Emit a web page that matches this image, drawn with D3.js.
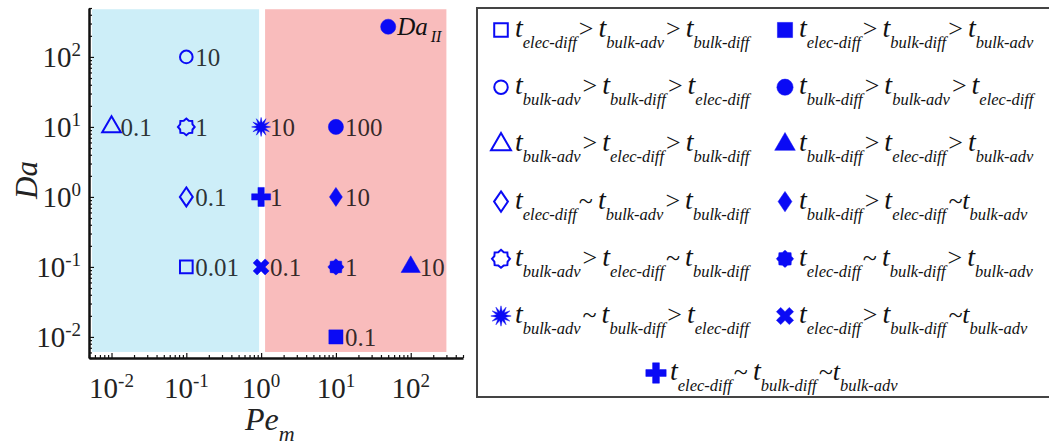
<!DOCTYPE html>
<html>
<head>
<meta charset="utf-8">
<script src="https://cdn.jsdelivr.net/npm/d3@7"></script>
<style>
body { margin: 0; background: #fff; }
svg { display: block; font-family: "Liberation Serif", "Times New Roman", serif; }
</style>
</head>
<body>
<script>
//Chart data
var peValues = [0.1, 0.1, 0.01, 0.1, 0.1, 1, 1, 1, 10, 10, 10, 100, 10];
var daValues = [0.1, 100, 10, 1, 10, 10, 1, 0.1, 10, 1, 0.1, 0.1, 0.01];
var daIILabels = ['0.01', '10', '0.1', '0.1', '1', '10', '1', '0.1', '100', '10', '1', '10', '0.1'];
var pointShapes = ['square', 'circle', 'triangle', 'diamond', 'hexagram', 'burst', 'plus', 'cross',
    'circle', 'diamond', 'hexagram', 'triangle', 'square'];
var pointFilled = [false, false, false, false, false, true, true, true, true, true, true, true, true];

//Key marker for Da_II
var keyPe = [50];
var keyDa = [270];

//Regime regions (Pe_m from, Pe_m to)
var regionPeStart = [0.0055, 1.13];
var regionPeEnd = [0.94, 300];
var regionDa = [0.0061, 480];

//Tick exponents
var tickExponents = [-2, -1, 0, 1, 2];

//Legend entries
var legendShapes = ['square', 'circle', 'triangle', 'diamond', 'hexagram', 'burst',
    'square', 'circle', 'triangle', 'diamond', 'hexagram', 'cross', 'plus'];
var legendFilled = [false, false, false, false, false, true, true, true, true, true, true, true, true];
var legendSubs = [
    ['elec-diff', 'bulk-adv', 'bulk-diff'],
    ['bulk-adv', 'bulk-diff', 'elec-diff'],
    ['bulk-adv', 'elec-diff', 'bulk-diff'],
    ['elec-diff', 'bulk-adv', 'bulk-diff'],
    ['bulk-adv', 'elec-diff', 'bulk-diff'],
    ['bulk-adv', 'bulk-diff', 'elec-diff'],
    ['elec-diff', 'bulk-diff', 'bulk-adv'],
    ['bulk-diff', 'bulk-adv', 'elec-diff'],
    ['bulk-diff', 'elec-diff', 'bulk-adv'],
    ['bulk-diff', 'elec-diff', 'bulk-adv'],
    ['elec-diff', 'bulk-diff', 'bulk-adv'],
    ['elec-diff', 'bulk-diff', 'bulk-adv'],
    ['elec-diff', 'bulk-diff', 'bulk-adv']
];
var legendOps = [
    ['>', '>'], ['>', '>'], ['>', '>'], ['~', '>'], ['>', '~'], ['~', '>'],
    ['>', '>'], ['>', '>'], ['>', '>'], ['>', '~t'], ['~', '>'], ['>', '~t'],
    ['~', '~t']
];

//Define the SVG size and plot box
var svgWidth = 1049;
var svgHeight = 447;
var plot = { left: 89, right: 463, top: 8, bottom: 358 };
var blue = '#0a0af5';

var svg = d3.select('body')
    .append('svg')
    .attr('width', svgWidth)
    .attr('height', svgHeight);

//Scales
var xScale = d3.scaleLog()
    .domain([0.005, 500])
    .range([plot.left, plot.right]);
var yScale = d3.scaleLog()
    .domain([0.005, 500])
    .range([plot.bottom, plot.top]);

//Marker types
function starType(points, inner) {
    return {
        draw: function(context, size) {
            var r = Math.sqrt(size) / 2;
            for (var i = 0; i < points * 2; i++) {
                var rr = i % 2 === 0 ? r : r * inner;
                var a = Math.PI * i / points - Math.PI / 2;
                if (i === 0) context.moveTo(rr * Math.cos(a), rr * Math.sin(a));
                else context.lineTo(rr * Math.cos(a), rr * Math.sin(a));
            }
            context.closePath();
        }
    };
}
var narrowDiamond = {
    draw: function(context, size) {
        var h = Math.sqrt(size) / 2;
        var w = h * 0.68;
        context.moveTo(0, -h);
        context.lineTo(w, 0);
        context.lineTo(0, h);
        context.lineTo(-w, 0);
        context.closePath();
    }
};
var shapeStyles = {
    square: { type: d3.symbolSquare, open: 160, full: 200, rotate: 0 },
    circle: { type: d3.symbolCircle, open: 125, full: 180, rotate: 0 },
    triangle: { type: d3.symbolTriangle, open: 150, full: 160, rotate: 0 },
    diamond: { type: narrowDiamond, open: 361, full: 361, rotate: 0 },
    hexagram: { type: starType(8, 0.8), open: 280, full: 260, rotate: 0 },
    burst: { type: starType(12, 0.45), open: 360, full: 360, rotate: 0 },
    plus: { type: d3.symbolCross, open: 200, full: 200, rotate: 0 },
    cross: { type: d3.symbolCross, open: 160, full: 160, rotate: 45 }
};

function drawMarker(group, shape, filled, scale) {
    var st = shapeStyles[shape];
    var size = (filled ? st.full : st.open) * scale;
    group.append('path')
        .attr('d', d3.symbol().type(st.type).size(size)())
        .attr('transform', 'rotate(' + st.rotate + ')')
        .attr('fill', filled ? blue : 'none')
        .attr('stroke', blue)
        .attr('stroke-width', filled ? 0.5 : 2);
}

//Background regions
svg.append('g').selectAll('rect')
    .data(regionPeStart)
    .enter()
    .append('rect')
    .attr('x', (d, i) => xScale(d))
    .attr('width', (d, i) => xScale(regionPeEnd[i]) - xScale(d))
    .attr('y', yScale(regionDa[1]))
    .attr('height', yScale(regionDa[0]) - yScale(regionDa[1]))
    .attr('fill', (d, i) => i === 0 ? '#cdeef8' : '#f9bcbc');

//Axes with major and minor ticks pointing inward
var majorTicks = tickExponents.map(e => Math.pow(10, e));
var minorTicks = xScale.ticks().filter(v => majorTicks.indexOf(v) < 0);

var xAxisGroup = svg.append('g').attr('transform', `translate(0, ${plot.bottom})`);
xAxisGroup.call(d3.axisBottom(xScale).tickValues(majorTicks).tickSize(-5).tickSizeOuter(0).tickFormat(''));
xAxisGroup.append('g').call(d3.axisBottom(xScale).tickValues(minorTicks).tickSize(-3).tickSizeOuter(0).tickFormat(''))
    .select('.domain').remove();

var yAxisGroup = svg.append('g').attr('transform', `translate(${plot.left}, 0)`);
yAxisGroup.call(d3.axisLeft(yScale).tickValues(majorTicks).tickSize(-5).tickSizeOuter(0).tickFormat(''));
yAxisGroup.append('g').call(d3.axisLeft(yScale).tickValues(minorTicks).tickSize(-3).tickSizeOuter(0).tickFormat(''))
    .select('.domain').remove();

svg.selectAll('.domain').attr('stroke', '#111').attr('stroke-width', 2.5);
svg.selectAll('.tick line').attr('stroke', '#111').attr('stroke-width', 1.2);

//Tick labels as 10^n
function powerLabel(sel) {
    sel.append('tspan').text('10');
    sel.append('tspan').text(d => d).attr('dy', -11).style('font-size', '19px');
}
svg.append('g').selectAll('text')
    .data(tickExponents)
    .enter()
    .append('text')
    .attr('x', d => xScale(Math.pow(10, d)))
    .attr('y', 398)
    .attr('text-anchor', 'middle')
    .style('font-size', '29px')
    .attr('fill', '#222')
    .call(powerLabel);
svg.append('g').selectAll('text')
    .data(tickExponents)
    .enter()
    .append('text')
    .attr('x', 81)
    .attr('y', d => yScale(Math.pow(10, d)) + 10)
    .attr('text-anchor', 'end')
    .style('font-size', '29px')
    .attr('fill', '#222')
    .call(powerLabel);

//Axis titles
svg.append('text')
    .attr('transform', 'translate(37, 180) rotate(-90)')
    .attr('text-anchor', 'middle')
    .style('font-size', '31px')
    .style('font-style', 'italic')
    .attr('fill', '#222')
    .text('Da');
var peTitle = svg.append('text')
    .attr('x', 245)
    .attr('y', 430)
    .style('font-style', 'italic')
    .attr('fill', '#222');
peTitle.append('tspan').text('Pe').style('font-size', '32px');
peTitle.append('tspan').text('m').attr('dy', 11).style('font-size', '22px');

//Point labels
svg.append('g').selectAll('text')
    .data(daIILabels)
    .enter()
    .append('text')
    .attr('x', (d, i) => xScale(peValues[i]) + 9)
    .attr('y', (d, i) => yScale(daValues[i]) + 9)
    .style('font-size', '25px')
    .attr('fill', '#000')
    .attr('fill-opacity', 0.8)
    .text(d => d);

//Markers
peValues.forEach(function(pe, i) {
    var g = svg.append('g').attr('transform', `translate(${xScale(pe)}, ${yScale(daValues[i])})`);
    drawMarker(g, pointShapes[i], pointFilled[i], 1);
});

//Da_II key
keyPe.forEach(function(pe, i) {
    var g = svg.append('g').attr('transform', `translate(${xScale(pe)}, ${yScale(keyDa[i])})`);
    drawMarker(g, 'circle', true, 1);
    var t = g.append('text').attr('x', 9).attr('y', 8).style('font-style', 'italic').attr('fill', '#111');
    t.append('tspan').text('Da').style('font-size', '25px');
    t.append('tspan').text('II').attr('dy', 7).attr('dx', 3).style('font-size', '16px');
});

//Legend box
svg.append('rect')
    .attr('x', 477)
    .attr('y', 8)
    .attr('width', 600)
    .attr('height', 389)
    .attr('fill', 'none')
    .attr('stroke', '#444')
    .attr('stroke-width', 2);

//Legend entries
var legendX = [501, 785];
legendShapes.forEach(function(shape, i) {
    var col = i < 6 ? 0 : 1;
    var row = i % 6;
    var lx = i === 12 ? 656 : legendX[col];
    var ly = i === 12 ? 373 : 30 + row * 57.2;
    var g = svg.append('g').attr('transform', `translate(${lx}, ${ly})`);
    drawMarker(g, shape, legendFilled[i], 1.15);
    var txt = g.append('text')
        .attr('x', 14)
        .attr('y', 7)
        .style('font-style', 'italic')
        .attr('fill', '#111');
    legendSubs[i].forEach(function(sub, j) {
        var op = j > 0 ? legendOps[i][j - 1] : '';
        if (op.slice(-1) !== 't') {
            txt.append('tspan').text('t')
                .attr('dx', j > 0 ? 5 : 0)
                .style('font-size', '28px');
        }
        txt.append('tspan').text(sub).attr('dy', 11).style('font-size', '16.5px');
        if (j < 2) {
            txt.append('tspan').text(legendOps[i][j])
                .attr('dy', -11)
                .attr('dx', 2)
                .style('font-style', legendOps[i][j].length > 1 ? 'italic' : 'normal')
                .style('font-size', '26px');
        }
    });
});
</script>
</body>
</html>
